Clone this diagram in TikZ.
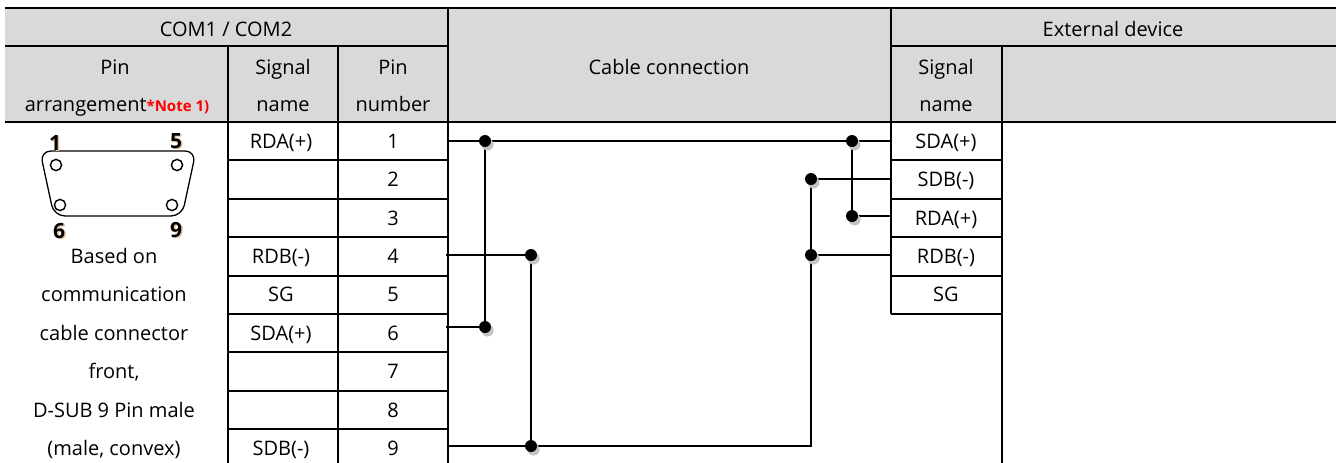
\documentclass[tikz,border=0pt]{standalone}
\usepackage{fontspec}
\setmainfont{Open Sans}
\usetikzlibrary{calc}
\definecolor{hdrgray}{RGB}{217,217,217}
\definecolor{notered}{RGB}{255,0,0}
\definecolor{shadowgray}{RGB}{195,195,195}
\definecolor{digitshadow}{RGB}{225,190,150}
\tikzset{
  tline/.style={line width=1.9pt, black},
  wire/.style={line width=1.4pt, black},
  txt/.style={font=\fontsize{20}{24}\selectfont, anchor=base, inner sep=0pt, text=black},
  digit/.style={font=\fontsize{21}{24}\selectfont\bfseries, anchor=base, inner sep=0pt},
  jdot/.style={circle, fill=black, inner sep=0pt, minimum size=12pt},
  jshadow/.style={circle, fill=shadowgray, inner sep=0pt, minimum size=12pt},
}
\begin{document}
\begin{tikzpicture}[x=1pt,y=-1pt]
\useasboundingbox (0,0) rectangle (1336,463);
% header background
\fill[hdrgray] (5,8) rectangle (1336,122);
% table lines
\draw[tline] (5,8) -- (1336,8);
\draw[tline] (5,46) -- (448,46);
\draw[tline] (891,46) -- (1336,46);
\draw[tline] (5,122) -- (1336,122);
\draw[tline] (228,46) -- (228,463);
\draw[tline] (338,46) -- (338,463);
\draw[tline] (448,8) -- (448,463);
\draw[tline] (891,8) -- (891,314);
\draw[tline] (1002,46) -- (1002,463);
\foreach \yy in {160.4,198.8,237.2,275.6,314,352.4,390.8,429.2} {
  \draw[tline] (228,\yy) -- (448,\yy);
}
\foreach \yy in {160.4,198.8,237.2,275.6,314} {
  \draw[tline] (891,\yy) -- (1002,\yy);
}
% header texts
\node[txt] (hcom) at (226,36) {COM1 / COM2};
\node[txt] (hext) at (1113,36) {External device};
\node[txt] (hpin1) at (115,74) {Pin};
\node[txt] (hpin2) at (117,111) {arrangement{\fontsize{15}{18}\selectfont\bfseries\color{notered}*Note 1)}};
\node[txt] (hsig1) at (283,74) {Signal};
\node[txt] (hsig2) at (283,111) {name};
\node[txt] (hnum1) at (393,74) {Pin};
\node[txt] (hnum2) at (393,111) {number};
\node[txt] (hcab) at (669,74) {Cable connection};
\node[txt] (hes1) at (946,74) {Signal};
\node[txt] (hes2) at (946,111) {name};
% data rows: signal names and pin numbers
\node[txt] (s1) at (281,148.2) {RDA(+)};
\node[txt] (s4) at (281,263.4) {RDB(-)};
\node[txt] (s5) at (281,301.8) {SG};
\node[txt] (s6) at (281,340.2) {SDA(+)};
\node[txt] (s9) at (281,455.4) {SDB(-)};
\foreach \n/\yy in {1/148.2,2/186.6,3/225,4/263.4,5/301.8,6/340.2,7/378.6,8/417,9/455.4} {
  \node[txt] (n\n) at (393,\yy) {\n};
}
\node[txt] (e1) at (946,148.2) {SDA(+)};
\node[txt] (e2) at (946,186.6) {SDB(-)};
\node[txt] (e3) at (946,225) {RDA(+)};
\node[txt] (e4) at (946,263.4) {RDB(-)};
\node[txt] (e5) at (946,301.8) {SG};
% pin arrangement description
\node[txt] (d1) at (114,263.4) {Based on};
\node[txt] (d2) at (114,301.8) {communication};
\node[txt] (d3) at (114,340.2) {cable connector};
\node[txt] (d4) at (114,378.6) {front,};
\node[txt] (d5) at (114,417) {D-SUB 9 Pin male};
\node[txt] (d6) at (114,455.4) {(male, convex)};
% D-SUB drawing
\draw[line width=1.3pt, rounded corners=11pt] (40,151) -- (196,151) -- (182,216) -- (54,216) -- cycle;
\foreach \cx/\cy in {56/165,177/165,60/205,172/205} {
  \draw[line width=1.4pt] (\cx,\cy) circle (5.6pt);
}
\foreach \lab/\cx/\cy in {1/55/150,5/176/148,6/59/238,9/176/237} {
  \node[digit, text=digitshadow] at (\cx+1.5,\cy+1.5) {\lab};
  \node[digit] (pin\lab) at (\cx,\cy) {\lab};
}
% wire coordinates
\coordinate (p1) at (448,141);
\coordinate (p4) at (446,255);
\coordinate (p6) at (446,327);
\coordinate (p9) at (448,446);
\coordinate (x1) at (891,141);
\coordinate (x2) at (891,179);
\coordinate (x3) at (891,216);
\coordinate (x4) at (891,255);
\coordinate (c9) at (811,446);
\coordinate (ja) at (485,141);
\coordinate (jb) at (852,141);
\coordinate (jc) at (485,327);
\coordinate (jd) at (531,255);
\coordinate (je) at (531,446);
\coordinate (jf) at (811,179);
\coordinate (jg) at (811,255);
\coordinate (jh) at (852,216);
% wires
\draw[wire] (p1) -- (x1);
\draw[wire] (ja) -- (jc);
\draw[wire] (p6) -- (jc);
\draw[wire] (p4) -- (jd);
\draw[wire] (jd) -- (je);
\draw[wire] (p9) -- (c9) -- (jf);
\draw[wire] (jf) -- (x2);
\draw[wire] (jg) -- (x4);
\draw[wire] (jb) -- (jh);
\draw[wire] (jh) -- (x3);
% junction dots
\foreach \j in {ja,jb,jc,jd,je,jf,jg,jh} {
  \node[jshadow] at ($(\j)+(2.5,3.5)$) {};
}
\foreach \j in {ja,jb,jc,jd,je,jf,jg,jh} {
  \node[jdot] (dot\j) at (\j) {};
}
\end{tikzpicture}
\end{document}
